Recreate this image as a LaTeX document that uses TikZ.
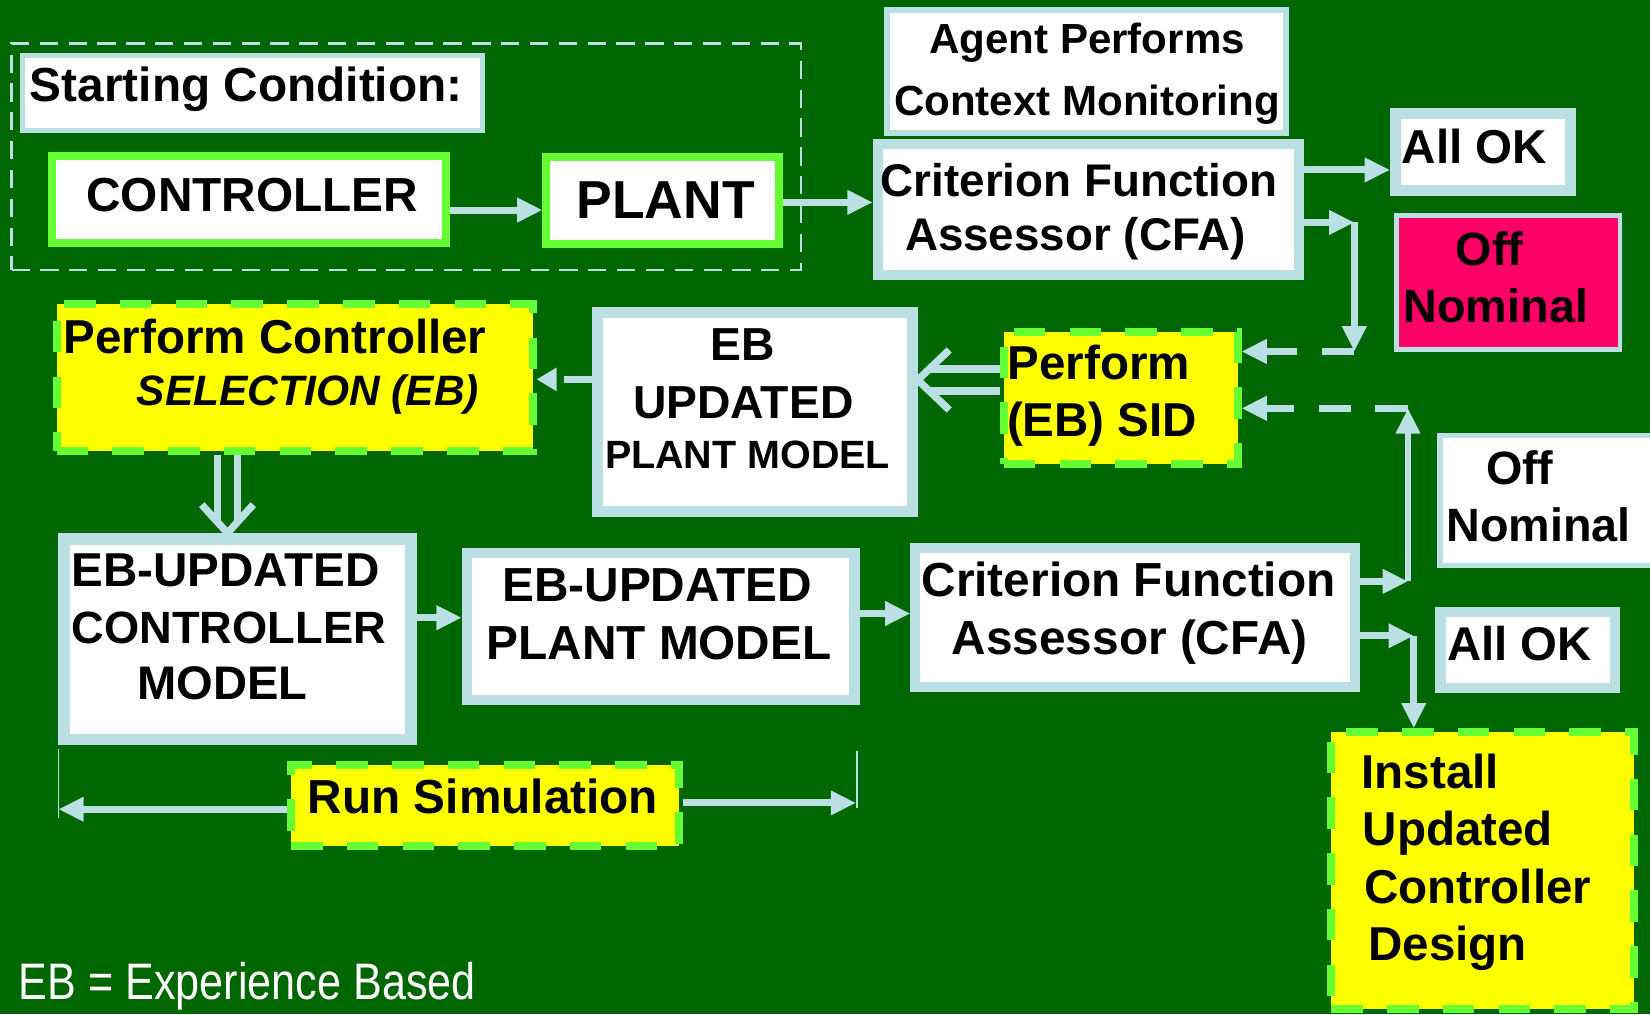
\documentclass[tikz,border=0pt]{standalone}
\usepackage{fontspec}
\setmainfont{Liberation Sans}
\newfontfamily\narrowsans{Liberation Sans}[FakeStretch=0.84]
\usetikzlibrary{arrows.meta}

\definecolor{bg}{RGB}{0,102,0}
\definecolor{lb}{RGB}{187,224,227}
\definecolor{lime}{RGB}{102,255,51}
\definecolor{hotpink}{RGB}{255,0,102}
\definecolor{yel}{RGB}{255,255,0}

\tikzset{
  fs/.style={font=\fontsize{#1}{#1}\selectfont\bfseries},
  txt/.style={inner sep=0pt, outer sep=0pt, text=black},
  boxbase/.style={rectangle, inner sep=0pt},
  panel/.style={boxbase, draw=lb, fill=white},
  limebox/.style={boxbase, draw=lime, fill=white, line width=3.8pt},
  dashbox/.style={boxbase, draw=lime, fill=yel, line width=3.8pt,
                  dash pattern=on 15pt off 11.5pt},
  conn/.style={draw=lb, line width=3.3pt, -{Triangle[length=12pt,width=11pt]}},
  dconn/.style={conn, dash pattern=on 15.5pt off 11.5pt},
  dblline/.style={draw=lb, line width=3.5pt, double=bg, double distance=#1},
  chev/.style={draw=lb, line width=3.5pt, line join=miter},
  tick/.style={draw=lb, line width=0.8pt},
}

\begin{document}
\begin{tikzpicture}[x=0.5pt, y=-0.5pt]
\useasboundingbox (0,0) rectangle (1568,964);
\fill[bg] (0,0) rectangle (1568,964);
\clip (0,0) rectangle (1568,964);

% ---- starting condition group ----
\node[boxbase, draw=lb, line width=1.25pt, dash pattern=on 8.7pt off 5pt,
      minimum width=375.05pt, minimum height=107.7pt] (region) at (386,148.9) {};
\node[panel, line width=2.4pt, minimum width=218.6pt, minimum height=35.9pt] (cond) at (239.9,88.4) {};
\node[limebox, minimum width=187.05pt, minimum height=41.15pt] (ctl) at (236.6,189.6) {};
\node[limebox, minimum width=110.55pt, minimum height=41.05pt] (plant) at (629.8,190.6) {};

% ---- monitoring and assessment (top row) ----
\node[panel, line width=2.7pt, minimum width=189.35pt, minimum height=58.6pt] (agent) at (1032.5,68.1) {};
\node[panel, line width=4.75pt, minimum width=200.35pt, minimum height=62.1pt] (cfa1) at (1034.4,199.2) {};
\node[panel, line width=5.2pt, minimum width=83pt, minimum height=36.3pt] (ok1) at (1409.1,144.4) {};
\node[boxbase, draw=lb, fill=hotpink, line width=2.2pt, minimum width=106.2pt, minimum height=63.5pt] (off1) at (1433.1,268.5) {};

% ---- identification and selection ----
\node[dashbox, minimum width=111pt, minimum height=62.7pt] (sid) at (1065,378.5) {};
\node[panel, line width=5.2pt, minimum width=149.7pt, minimum height=94.55pt] (ebpm) at (717.2,391.3) {};
\node[dashbox, minimum width=226.15pt, minimum height=69.8pt] (pcs) at (279.9,358.8) {};

% ---- simulation row ----
\node[panel, line width=5.5pt, minimum width=164.7pt, minimum height=95.25pt] (ecm) at (225.7,607.3) {};
\node[panel, line width=5pt, minimum width=184.1pt, minimum height=69.75pt] (epm) at (627.9,595.3) {};
\node[panel, line width=4.75pt, minimum width=209.1pt, minimum height=66.05pt] (cfa2) at (1079,587.1) {};
\node[panel, line width=2.4pt, minimum width=125.8pt, minimum height=61.8pt] (off2) at (1494.2,475.9) {};
\node[panel, line width=5.1pt, minimum width=82.9pt, minimum height=36.1pt] (ok2) at (1451.7,617.7) {};
\node[dashbox, minimum width=144pt, minimum height=131.6pt] (inst) at (1409.1,827.5) {};
\node[dashbox, minimum width=184.45pt, minimum height=38.65pt] (rs) at (461,765.4) {};

% ---- texts ----
\node[txt, fs=22.7pt, anchor=base west] (t-cond) at (28.5,96) {Starting Condition:};
\node[txt, fs=22.7pt, anchor=base] (t-ctl) at (239.8,201.2) {CONTROLLER};
\node[txt, fs=25.4pt, anchor=base] (t-plant) at (632.5,207.5) {PLANT};
\node[txt, fs=20pt, anchor=base] (t-agent1) at (1033,50.7) {Agent Performs};
\node[txt, fs=20pt, anchor=base] (t-agent2) at (1033,109.3) {Context Monitoring};
\node[txt, fs=21.75pt, anchor=base] (t-cfa1a) at (1025.5,187) {Criterion Function};
\node[txt, fs=21.75pt, anchor=base] (t-cfa1b) at (1022,238) {Assessor (CFA)};
\node[txt, fs=22.6pt, anchor=base west] (t-ok1) at (1332.3,155.2) {All OK};
\node[txt, fs=22.2pt, anchor=base] (t-off1a) at (1415.5,252) {Off};
\node[txt, fs=22.2pt, anchor=base] (t-off1b) at (1421.5,306) {Nominal};
\node[txt, fs=22.6pt, anchor=base west] (t-sid1) at (957.5,361) {Perform};
\node[txt, fs=22.6pt, anchor=base west] (t-sid2) at (957,415) {(EB) SID};
\node[txt, fs=22pt, anchor=base] (t-ebpm1) at (705.6,343) {EB};
\node[txt, fs=22pt, anchor=base] (t-ebpm2) at (706.4,397.5) {UPDATED};
\node[txt, fs=18.75pt, anchor=base] (t-ebpm3) at (710.4,445) {PLANT MODEL};
\node[txt, fs=22.6pt, anchor=base west] (t-pcs1) at (60.5,335.7) {Perform Controller};
\node[txt, fs=20.2pt, anchor=base west] (t-pcs2) at (129.9,384.9) {\itshape SELECTION (EB)};
\node[txt, fs=22.6pt, anchor=base west] (t-ecm1) at (68.1,557.5) {EB-UPDATED};
\node[txt, fs=21.5pt, anchor=base west] (t-ecm2) at (68.1,611.3) {CONTROLLER};
\node[txt, fs=22.4pt, anchor=base] (t-ecm3) at (211.5,665.2) {MODEL};
\node[txt, fs=22.7pt, anchor=base] (t-epm1) at (624.5,571.8) {EB-UPDATED};
\node[txt, fs=22.7pt, anchor=base] (t-epm2) at (626.3,626.6) {PLANT MODEL};
\node[txt, fs=22.7pt, anchor=base] (t-cfa2a) at (1072.5,567) {Criterion Function};
\node[txt, fs=22.7pt, anchor=base] (t-cfa2b) at (1073.5,622.4) {Assessor (CFA)};
\node[txt, fs=22.2pt, anchor=base] (t-off2a) at (1444.2,460) {Off};
\node[txt, fs=22.2pt, anchor=base west] (t-off2b) at (1374.5,514.7) {Nominal};
\node[txt, fs=22.5pt, anchor=base west] (t-ok2) at (1375.3,627.2) {All OK};
\node[txt, fs=22.6pt, anchor=base west] (t-inst1) at (1294,749.1) {Install};
\node[txt, fs=22.6pt, anchor=base west] (t-inst2) at (1295,803.6) {Updated};
\node[txt, fs=22.6pt, anchor=base west] (t-inst3) at (1296.2,858.4) {Controller};
\node[txt, fs=22.6pt, anchor=base west] (t-inst4) at (1300.3,912.3) {Design};
\node[txt, fs=22.7pt, anchor=base] (t-rs) at (459,772.9) {Run Simulation};
\node[inner sep=0pt, anchor=base west, text=white,
      font=\narrowsans\fontsize{24.4pt}{24.4pt}\selectfont] (legend) at (17.5,949.7) {EB = Experience Based};

% ---- levels and corners used by the connectors ----
\coordinate (y-cp) at (0,199.6);
\coordinate (y-pc) at (0,192.3);
\coordinate (y-ok1) at (0,161.5);
\coordinate (k1) at (1287,211.4);
\coordinate (k2) at (1287,334);
\coordinate (k3) at (1338,552.5);
\coordinate (k4) at (1338,388);
\coordinate (k5) at (1343.5,604.2);
\coordinate (y-sel) at (0,360.5);
\coordinate (y-dbl) at (0,361.1);
\coordinate (x-dbl) at (216.2,0);
\coordinate (y-cm) at (0,587);
\coordinate (y-pm) at (0,583);
\coordinate (tl) at (55.5,769);
\coordinate (tr) at (813.5,763);
\coordinate (tl-top) at (55.5,712);
\coordinate (tl-bot) at (55.5,777);
\coordinate (tr-top) at (814.4,714);
\coordinate (tr-bot) at (814.4,768);
\coordinate (hd) at (ebpm.east |- y-dbl);
\coordinate (vd) at (ecm.north -| x-dbl);

% ---- connectors ----
\draw[conn] (ctl.east |- y-cp) -- (plant.west |- y-cp);
\draw[conn] (plant.east |- y-pc) -- (cfa1.west |- y-pc);
\draw[conn] (cfa1.east |- y-ok1) -- (ok1.west |- y-ok1);
\draw[conn] (cfa1.east |- k1) -- (k1);
\draw[conn] (k1) -- (k2);
\draw[dconn] (k2) -- (sid.east |- k2);
\draw[conn] (cfa2.east |- k3) -- (k3);
\draw[conn] (k3) -- (k4);
\draw[dconn] (k4) -- (sid.east |- k4);
\draw[conn] (cfa2.east |- k5) -- (k5);
\draw[conn] (k5) -- (k5 |- inst.north);
% double-line arrows with open chevron heads
\draw[dblline=7.1pt, shorten >=5pt] (sid.west |- y-dbl) -- (hd);
\draw[chev] ([shift={(15pt,14.25pt)}]hd) -- (hd) -- ([shift={(15pt,-14.25pt)}]hd);
\draw[dblline=6pt, shorten >=5pt] (pcs.south -| x-dbl) -- (vd);
\draw[chev] ([shift={(-12.25pt,13.5pt)}]vd) -- (vd) -- ([shift={(12.25pt,13.5pt)}]vd);
\draw[draw=lb, line width=3.3pt, dash pattern=on 13pt off 8pt,
      -{Triangle[length=9.5pt,width=10.5pt]}] (ebpm.west |- y-sel) -- (pcs.east |- y-sel);
\draw[conn] (ecm.east |- y-cm) -- (epm.west |- y-cm);
\draw[conn] (epm.east |- y-pm) -- (cfa2.west |- y-pm);
\draw[conn] (rs.west |- tl) -- (tl);
\draw[conn] (rs.east |- tr) -- (tr);
\draw[tick] (tl-top) -- (tl-bot);
\draw[tick] (tr-top) -- (tr-bot);
\end{tikzpicture}
\end{document}
